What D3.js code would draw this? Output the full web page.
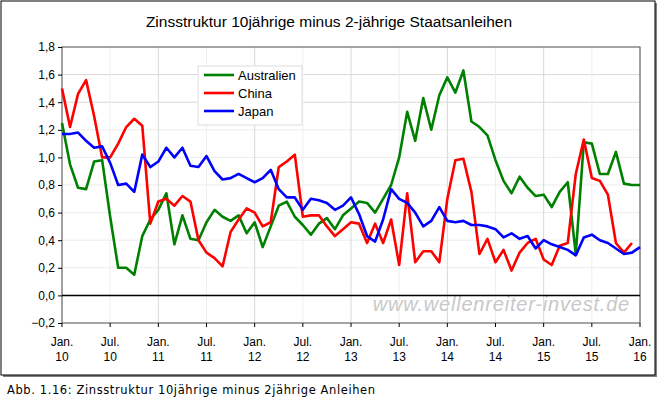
<!DOCTYPE html>
<html><head><meta charset="utf-8">
<script src="https://cdn.jsdelivr.net/npm/d3@7"></script>
<style>body{margin:0;background:#fff;font-family:Arial,"Liberation Sans",sans-serif}</style>
</head><body><svg id="c" width="660" height="403"></svg>
<script>
const seriesNames = ['Australien', 'China', 'Japan'];
const colors = ['#008000', '#ff0000', '#0000ff'];
const australien = [1.25,0.95,0.78,0.77,0.97,0.98,0.57,0.2,0.2,0.15,0.43,0.55,0.62,0.74,0.37,0.58,0.41,0.40,0.53,0.62,0.57,0.54,0.58,0.45,0.53,0.35,0.5,0.65,0.68,0.57,0.51,0.44,0.52,0.56,0.48,0.58,0.63,0.68,0.67,0.6,0.7,0.8,1.0,1.33,1.12,1.43,1.2,1.45,1.58,1.47,1.63,1.26,1.22,1.16,0.98,0.83,0.74,0.86,0.78,0.72,0.73,0.64,0.75,0.82,0.3,1.11,1.1,0.88,0.88,1.04,0.81,0.80,0.80];
const china = [1.5,1.22,1.46,1.56,1.3,1.0,1.0,1.1,1.22,1.28,1.23,0.52,0.68,0.7,0.65,0.72,0.68,0.4,0.31,0.27,0.21,0.46,0.55,0.63,0.6,0.5,0.53,0.93,0.97,1.02,0.57,0.58,0.58,0.5,0.43,0.48,0.53,0.52,0.38,0.52,0.38,0.55,0.22,0.74,0.24,0.32,0.32,0.24,0.7,0.98,0.99,0.75,0.3,0.41,0.24,0.33,0.18,0.31,0.38,0.41,0.26,0.22,0.36,0.38,0.88,1.13,0.85,0.83,0.73,0.38,0.31,0.38];
const japan = [1.17,1.17,1.18,1.12,1.07,1.08,0.96,0.8,0.81,0.75,1.02,0.93,0.97,1.07,1.0,1.07,0.94,0.93,1.01,0.9,0.84,0.85,0.88,0.85,0.82,0.85,0.91,0.77,0.71,0.71,0.62,0.7,0.69,0.67,0.62,0.65,0.71,0.59,0.43,0.39,0.55,0.77,0.7,0.67,0.6,0.5,0.54,0.64,0.54,0.53,0.54,0.51,0.51,0.50,0.48,0.42,0.45,0.41,0.43,0.34,0.4,0.37,0.35,0.33,0.29,0.42,0.44,0.4,0.38,0.34,0.3,0.31,0.35];
const yTicks = [-0.2,0,0.2,0.4,0.6,0.8,1.0,1.2,1.4,1.6,1.8];
const xTickMonths = [0,6,12,18,24,30,36,42,48,54,60,66,72];
const xTickLabels = [['Jan.','10'],['Jul.','10'],['Jan.','11'],['Jul.','11'],['Jan.','12'],['Jul.','12'],['Jan.','13'],['Jul.','13'],['Jan.','14'],['Jul.','14'],['Jan.','15'],['Jul.','15'],['Jan.','16']];

const svg = d3.select('#c');
const L = 62, R = 640, T = 47, B = 323;
// outer frame
svg.append('rect').attr('x',3).attr('y',3).attr('width',654).attr('height',374).attr('fill','#808080');
svg.append('rect').attr('x',1).attr('y',1).attr('width',654).attr('height',374).attr('fill','#fff').attr('stroke','#000').attr('stroke-width',1);

const x = d3.scaleLinear().domain([0,72]).range([L,R]);
const y = d3.scaleLinear().domain([-0.2,1.8]).range([B,T]);

// grid
svg.append('g').selectAll('line').data(yTicks).enter().append('line')
  .attr('x1',L).attr('x2',R).attr('y1',d=>y(d)).attr('y2',d=>y(d))
  .attr('stroke',d=>[1.4,1.6].includes(d)?'#d8d8d8':'#ececec');
svg.append('g').selectAll('line').data(xTickMonths).enter().append('line')
  .attr('y1',T).attr('y2',B).attr('x1',d=>x(d)).attr('x2',d=>x(d))
  .attr('stroke',d=>d%12==0?'#d8d8d8':'#efefef');

// watermark
svg.append('text').text('www.wellenreiter-invest.de').attr('x',630).attr('y',311)
  .attr('text-anchor','end').attr('font-size',20).attr('font-style','italic')
  .attr('fill','#c8c8c8').attr('letter-spacing',0.8);

svg.append('rect').attr('x',L).attr('y',T).attr('width',R-L).attr('height',B-T)
  .attr('fill','none').attr('stroke','#555');
svg.append('line').attr('x1',L).attr('x2',R).attr('y1',y(0)).attr('y2',y(0)).attr('stroke','#000').attr('stroke-width',1.5);

// axes
const yAxis = d3.axisLeft(y).tickValues(yTicks).tickSize(4)
  .tickFormat(d=>d3.format('.1f')(d).replace('.',','));
const gy = svg.append('g').attr('transform','translate('+L+',0)').call(yAxis);
gy.select('.domain').remove();
gy.selectAll('text').attr('font-size',12).attr('fill','#000').attr('font-family','Arial');

const gx = svg.append('g').attr('transform','translate(0,'+B+')');
gx.selectAll('line').data(xTickMonths).enter().append('line')
  .attr('x1',d=>x(d)).attr('x2',d=>x(d)).attr('y1',0).attr('y2',4).attr('stroke','#000');
gx.selectAll('text.a').data(xTickMonths).enter().append('text')
  .attr('x',d=>x(d)).attr('y',23).attr('text-anchor','middle').attr('font-size',12)
  .text((d,i)=>xTickLabels[i][0]);
gx.selectAll('text.b').data(xTickMonths).enter().append('text')
  .attr('x',d=>x(d)).attr('y',38).attr('text-anchor','middle').attr('font-size',12)
  .text((d,i)=>xTickLabels[i][1]);

// lines
const line = d3.line().x((d,i)=>x(i)).y(d=>y(d));
[australien, china, japan].forEach((s,k)=>{
  svg.append('path').attr('d',line(s)).attr('fill','none')
    .attr('stroke',colors[k]).attr('stroke-width',2.6).attr('stroke-linejoin','round');
});

// legend
svg.append('rect').attr('x',198).attr('y',66).attr('width',104).attr('height',59)
  .attr('fill','#fff').attr('stroke','#ddd');
seriesNames.forEach((n,k)=>{
  const yy = 75 + k*18;
  svg.append('line').attr('x1',204).attr('x2',234).attr('y1',yy).attr('y2',yy)
    .attr('stroke',colors[k]).attr('stroke-width',2.6);
  svg.append('text').attr('x',238).attr('y',yy+4.5).attr('font-size',13).text(n);
});

svg.append('text').attr('x',329).attr('y',27).attr('text-anchor','middle')
  .attr('font-size',15.5).text('Zinsstruktur 10jährige minus 2-jährige Staatsanleihen');
svg.append('text').attr('x',7).attr('y',394).attr('font-size',11.5)
  .attr('font-family','"DejaVu Sans"').attr('letter-spacing',0.6)
  .text('Abb. 1.16: Zinsstruktur 10jährige minus 2jährige Anleihen');
</script></body></html>
